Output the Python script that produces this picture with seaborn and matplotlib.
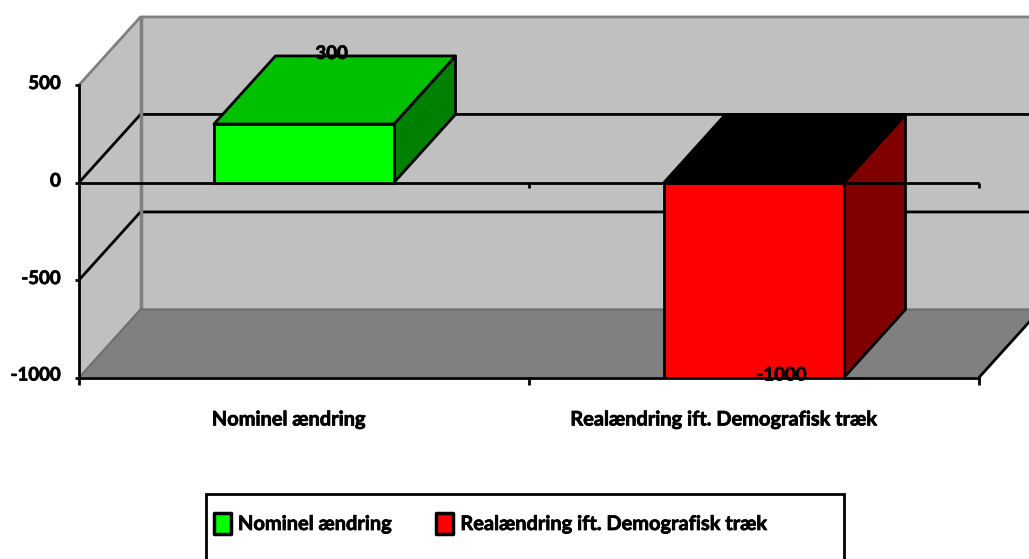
import matplotlib
matplotlib.use("Agg")
import matplotlib.pyplot as plt
import matplotlib.patheffects as pe
from matplotlib.patches import Polygon, Rectangle
from matplotlib.transforms import ScaledTranslation
import pandas as pd
import seaborn as sns

categories = ["Nominel ændring", "Realændring ift. Demografisk træk"]
values = [300, -1000]
front_colors = ["#00FF00", "#FF0000"]
top_colors = ["#00C000", "#000000"]
side_colors = ["#008000", "#800000"]
y_ticks = [500, 0, -500, -1000]

WALL = "#C0C0C0"
FLOOR = "#808080"
EDGE = "#808080"
# Oblique depth of the 3D box, in data units
DEPTH_X = 61.5 / 450
DEPTH_Y = 349
TEXT_SIZE = 14.4
NUMBER_SIZE = 13.4

sns.set_theme(style="white")
plt.rcParams["font.family"] = ["Lato", "DejaVu Sans"]
plt.rcParams["font.weight"] = "bold"

# Slight outline to thicken the lettering
HEAVY = [pe.withStroke(linewidth=0.55, foreground="black")]

W, H = 1029, 559
fig = plt.figure(figsize=(W / 100, H / 100), dpi=100, facecolor="white")
ax = fig.add_axes([79 / W, (H - 377.5) / H, 900 / W, 292.5 / H])
ax.patch.set_alpha(0)

df = pd.DataFrame({"category": categories, "value": values})
sns.barplot(
    data=df, x="category", y="value", hue="category", hue_order=categories,
    palette=front_colors, width=0.4, dodge=False, saturation=1,
    edgecolor="black", linewidth=2, legend=True, ax=ax,
)

x0, x1 = -0.5, 1.5
y0, y1 = -1000, 500
ax.set_xlim(x0, x1)
ax.set_ylim(y0, y1)


def face(points, color, z, edge="none", lw=0):
    ax.add_patch(Polygon(points, closed=True, facecolor=color, edgecolor=edge,
                         linewidth=lw, zorder=z, clip_on=False, joinstyle="round"))


def line(xs, ys, color, lw, z):
    ax.plot(xs, ys, color=color, lw=lw, zorder=z, clip_on=False,
            solid_capstyle="butt")


dx, dy = DEPTH_X, DEPTH_Y

# Box walls and floor
face([(x0 + dx, y0 + dy), (x1 + dx, y0 + dy), (x1 + dx, y1 + dy), (x0 + dx, y1 + dy)], WALL, 0.1)
face([(x0, y0), (x0 + dx, y0 + dy), (x0 + dx, y1 + dy), (x0, y1)], WALL, 0.1)
face([(x0, y0), (x1, y0), (x1 + dx, y0 + dy), (x0 + dx, y0 + dy)], FLOOR, 0.2)

# Gridlines wrapping the side and back walls
for level in (0, -500):
    line([x0, x0 + dx, x1 + dx], [level, level + dy, level + dy], "black", 2, 0.4)

# Wall outlines
line([x0, x0 + dx, x1 + dx], [y1, y1 + dy, y1 + dy], EDGE, 2, 0.5)
line([x0 + dx, x0 + dx], [y0 + dy, y1 + dy], EDGE, 2.5, 0.5)
line([x0, x0 + dx, x1 + dx], [y0, y0 + dy, y0 + dy], "#6E6E6E", 1.5, 0.5)
line([x1, x1 + dx], [y0, y0 + dy], "black", 2, 0.6)

# Depth faces of each bar, built from the bars seaborn drew
bars = [p for p in ax.patches if isinstance(p, Rectangle) and p.get_height() != 0]
bars = sorted(bars, key=lambda p: p.get_x())
for bar, value, top, side in zip(bars, values, top_colors, side_colors):
    left, right = bar.get_x(), bar.get_x() + bar.get_width()
    upper = max(value, 0)
    lower = min(value, 0)
    face([(right, lower), (right + dx, lower + dy), (right + dx, upper + dy), (right, upper)],
         side, 1.1, "black", 2)
    face([(left, upper), (right, upper), (right + dx, upper + dy), (left + dx, upper + dy)],
         top, 1.2, "black", 2)
    bar.set_zorder(1.3)

# Zero line with its own ticks
line([x0, x1], [0, 0], "black", 2, 1.25)
for pos in (0.5, 1.5):
    line([pos, pos], [0, -28], "black", 2, 1.25)

# Axes frame and ticks
for name in ("top", "right"):
    ax.spines[name].set_visible(False)
for name in ("left", "bottom"):
    ax.spines[name].set_color("black")
    ax.spines[name].set_linewidth(2)
ax.set_xlabel("")
ax.set_ylabel("")
ax.set_yticks(y_ticks)
ax.set_yticklabels([str(v) for v in y_ticks])
ax.tick_params(axis="y", length=3, width=2, color="black", pad=10,
               labelsize=NUMBER_SIZE, labelcolor="black", left=True)
for lab, lift in zip(ax.get_yticklabels(), (3, 3, 3, 4)):
    lab.set_fontweight("bold")
    lab.set_path_effects(HEAVY)
    lab.set_transform(lab.get_transform() + ScaledTranslation(0, lift / 100, fig.dpi_scale_trans))

ax.set_xticks([0, 1])
ax.set_xticklabels(categories)
ax.set_xticks([x0, 0.5, x1], minor=True)
ax.tick_params(axis="x", which="major", length=0, pad=23, labelsize=TEXT_SIZE, labelcolor="black")
ax.tick_params(axis="x", which="minor", length=5, width=2, color="black", bottom=True)
for lab, shift in zip(ax.get_xticklabels(), (-15, -30)):
    lab.set_fontweight("bold")
    lab.set_path_effects(HEAVY)
    lab.set_transform(lab.get_transform() + ScaledTranslation(shift / 100, 0, fig.dpi_scale_trans))

# Value labels, tied to the bar values
for bar, value in zip(bars, values):
    cx = bar.get_x() + bar.get_width() / 2 + dx * 0.45
    cy = value + dy if value > 0 else value
    ax.annotate(str(value), (cx, cy), xytext=(0, 2.5), textcoords="offset pixels",
                ha="center", va="center", fontsize=NUMBER_SIZE, fontweight="bold",
                color="black", zorder=5, annotation_clip=False, path_effects=HEAVY)

# Legend box runs off the lower edge of the figure
fig.add_artist(Rectangle((205.5 / W, -0.02), 638 / W, (H - 494) / H + 0.02,
                         transform=fig.transFigure, facecolor="white",
                         edgecolor="black", linewidth=2, zorder=-1))
sns.move_legend(
    ax, loc="upper left", bbox_to_anchor=(214 / W, 1 - 513 / H),
    bbox_transform=fig.transFigure, ncol=2, title=None, frameon=False,
    borderpad=0, borderaxespad=0, handlelength=0.85, handleheight=1.2,
    handletextpad=0.35, columnspacing=2.2, fontsize=TEXT_SIZE,
)
legend = ax.get_legend()
legend.set_zorder(6)
for handle, color in zip(legend.legend_handles, front_colors):
    handle.set_facecolor(color)
    handle.set_edgecolor("black")
    handle.set_linewidth(2.5)
    handle.set_joinstyle("round")
for text in legend.get_texts():
    text.set_fontweight("bold")
    text.set_color("black")
    text.set_path_effects(HEAVY)

fig.savefig("out.png", dpi=100, facecolor="white")
